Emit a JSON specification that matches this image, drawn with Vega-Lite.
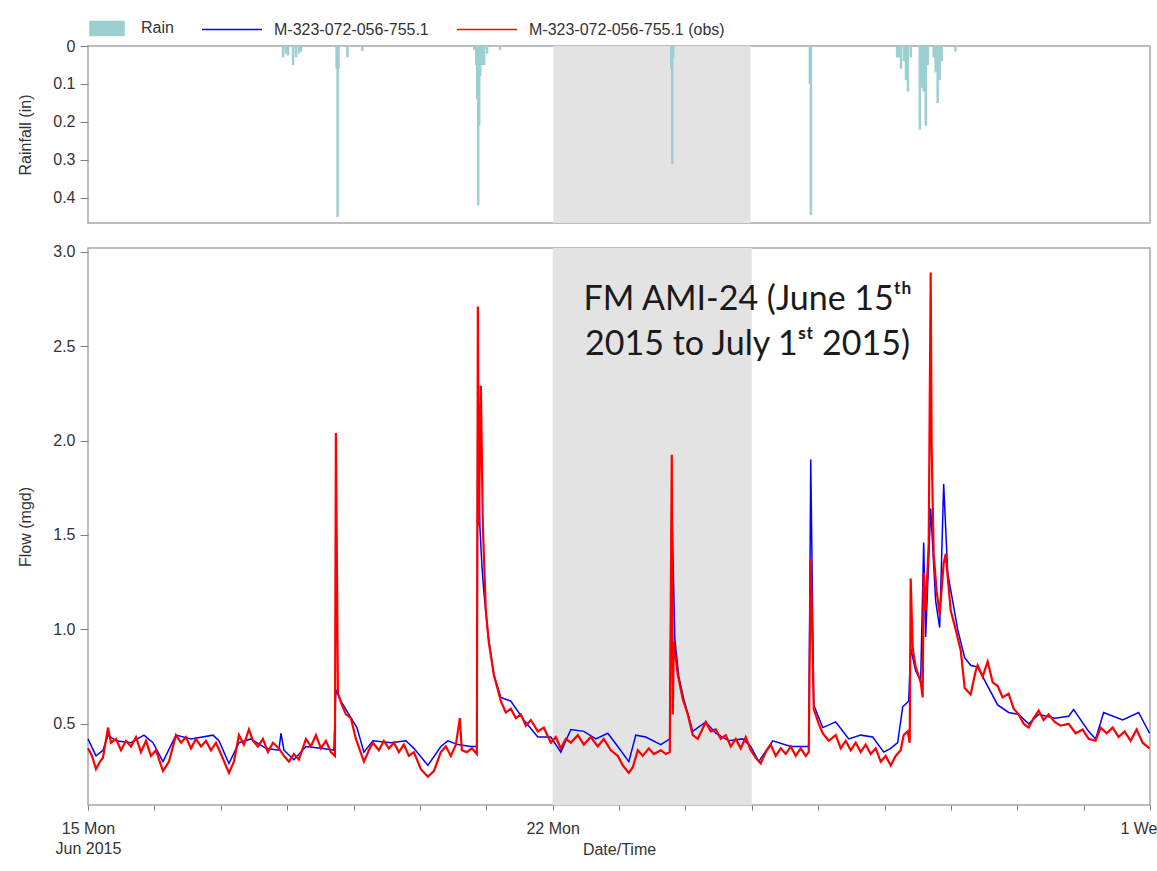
{
  "$schema": "https://vega.github.io/schema/vega-lite/v6.json",
  "padding": {"left": 16, "top": 20, "right": 0, "bottom": 5},
  "background": "white",
  "spacing": 19,
  "datasets": {
    "band": [{"start": "2015-06-22T00:00", "end": "2015-06-25T00:00"}],
    "rain": [
      {"t": "2015-06-17T21:24", "rain": 0.03}, {"t": "2015-06-17T22:29", "rain": 0.02}, {"t": "2015-06-17T23:12", "rain": 0.025},
      {"t": "2015-06-18T01:01", "rain": 0.05}, {"t": "2015-06-18T02:06", "rain": 0.03}, {"t": "2015-06-18T03:11", "rain": 0.02},
      {"t": "2015-06-18T03:54", "rain": 0.015}, {"t": "2015-06-18T16:55", "rain": 0.06}, {"t": "2015-06-18T17:17", "rain": 0.45},
      {"t": "2015-06-18T17:38", "rain": 0.06}, {"t": "2015-06-18T20:53", "rain": 0.03}, {"t": "2015-06-19T02:19", "rain": 0.013},
      {"t": "2015-06-20T19:09", "rain": 0.01}, {"t": "2015-06-20T19:53", "rain": 0.05}, {"t": "2015-06-20T20:14", "rain": 0.14},
      {"t": "2015-06-20T20:36", "rain": 0.42}, {"t": "2015-06-20T20:58", "rain": 0.21}, {"t": "2015-06-20T21:20", "rain": 0.08},
      {"t": "2015-06-20T22:03", "rain": 0.05}, {"t": "2015-06-20T22:46", "rain": 0.05}, {"t": "2015-06-20T23:51", "rain": 0.02},
      {"t": "2015-06-21T04:33", "rain": 0.01}, {"t": "2015-06-23T19:05", "rain": 0.06}, {"t": "2015-06-23T19:27", "rain": 0.31},
      {"t": "2015-06-23T19:48", "rain": 0.03}, {"t": "2015-06-25T21:41", "rain": 0.1}, {"t": "2015-06-25T22:03", "rain": 0.445},
      {"t": "2015-06-27T05:30", "rain": 0.03}, {"t": "2015-06-27T06:13", "rain": 0.03}, {"t": "2015-06-27T06:56", "rain": 0.06},
      {"t": "2015-06-27T08:01", "rain": 0.04}, {"t": "2015-06-27T08:45", "rain": 0.09}, {"t": "2015-06-27T09:28", "rain": 0.12},
      {"t": "2015-06-27T10:33", "rain": 0.03}, {"t": "2015-06-27T13:48", "rain": 0.22}, {"t": "2015-06-27T14:32", "rain": 0.11},
      {"t": "2015-06-27T15:15", "rain": 0.12}, {"t": "2015-06-27T15:59", "rain": 0.21}, {"t": "2015-06-27T16:42", "rain": 0.05},
      {"t": "2015-06-27T18:52", "rain": 0.03}, {"t": "2015-06-27T19:35", "rain": 0.07}, {"t": "2015-06-27T20:19", "rain": 0.15},
      {"t": "2015-06-27T21:02", "rain": 0.09}, {"t": "2015-06-27T21:46", "rain": 0.04}, {"t": "2015-06-28T02:49", "rain": 0.015}
    ],
    "model": [
      {"t": "2015-06-15T00:00", "flow": 0.42}, {"t": "2015-06-15T02:53", "flow": 0.33}, {"t": "2015-06-15T05:25", "flow": 0.36},
      {"t": "2015-06-15T07:14", "flow": 0.44}, {"t": "2015-06-15T10:07", "flow": 0.41}, {"t": "2015-06-15T15:33", "flow": 0.40},
      {"t": "2015-06-15T20:14", "flow": 0.44}, {"t": "2015-06-15T23:30", "flow": 0.40}, {"t": "2015-06-16T03:07", "flow": 0.30},
      {"t": "2015-06-16T07:48", "flow": 0.44}, {"t": "2015-06-16T13:14", "flow": 0.42}, {"t": "2015-06-16T21:11", "flow": 0.44},
      {"t": "2015-06-16T23:21", "flow": 0.41}, {"t": "2015-06-17T02:58", "flow": 0.29}, {"t": "2015-06-17T06:35", "flow": 0.40},
      {"t": "2015-06-17T10:55", "flow": 0.42}, {"t": "2015-06-17T16:20", "flow": 0.37}, {"t": "2015-06-17T21:02", "flow": 0.36},
      {"t": "2015-06-17T21:46", "flow": 0.45}, {"t": "2015-06-17T22:51", "flow": 0.36}, {"t": "2015-06-18T02:27", "flow": 0.31},
      {"t": "2015-06-18T06:48", "flow": 0.38}, {"t": "2015-06-18T12:13", "flow": 0.37}, {"t": "2015-06-18T16:55", "flow": 0.36},
      {"t": "2015-06-18T17:38", "flow": 0.68}, {"t": "2015-06-18T19:27", "flow": 0.62}, {"t": "2015-06-18T22:20", "flow": 0.55},
      {"t": "2015-06-19T01:14", "flow": 0.48}, {"t": "2015-06-19T03:46", "flow": 0.35}, {"t": "2015-06-19T07:01", "flow": 0.41},
      {"t": "2015-06-19T13:31", "flow": 0.40}, {"t": "2015-06-19T18:56", "flow": 0.41}, {"t": "2015-06-19T21:50", "flow": 0.37},
      {"t": "2015-06-20T02:53", "flow": 0.28}, {"t": "2015-06-20T07:35", "flow": 0.38}, {"t": "2015-06-20T10:07", "flow": 0.41},
      {"t": "2015-06-20T13:44", "flow": 0.39}, {"t": "2015-06-20T18:26", "flow": 0.38}, {"t": "2015-06-20T20:36", "flow": 0.38},
      {"t": "2015-06-20T20:58", "flow": 2.28}, {"t": "2015-06-20T21:41", "flow": 1.55}, {"t": "2015-06-20T22:25", "flow": 1.34},
      {"t": "2015-06-20T23:08", "flow": 1.20}, {"t": "2015-06-21T00:35", "flow": 0.98}, {"t": "2015-06-21T02:45", "flow": 0.76},
      {"t": "2015-06-21T05:17", "flow": 0.64}, {"t": "2015-06-21T08:53", "flow": 0.62}, {"t": "2015-06-21T13:35", "flow": 0.52},
      {"t": "2015-06-21T18:39", "flow": 0.43}, {"t": "2015-06-21T23:21", "flow": 0.43}, {"t": "2015-06-22T02:58", "flow": 0.35},
      {"t": "2015-06-22T06:35", "flow": 0.47}, {"t": "2015-06-22T11:17", "flow": 0.46}, {"t": "2015-06-22T15:37", "flow": 0.42},
      {"t": "2015-06-22T19:57", "flow": 0.45}, {"t": "2015-06-22T23:34", "flow": 0.38}, {"t": "2015-06-23T03:33", "flow": 0.30},
      {"t": "2015-06-23T06:04", "flow": 0.44}, {"t": "2015-06-23T09:41", "flow": 0.43}, {"t": "2015-06-23T15:07", "flow": 0.39},
      {"t": "2015-06-23T18:22", "flow": 0.42}, {"t": "2015-06-23T19:05", "flow": 1.69}, {"t": "2015-06-23T20:10", "flow": 0.95},
      {"t": "2015-06-23T21:37", "flow": 0.75}, {"t": "2015-06-23T23:25", "flow": 0.63}, {"t": "2015-06-24T02:40", "flow": 0.46},
      {"t": "2015-06-24T07:22", "flow": 0.51}, {"t": "2015-06-24T10:59", "flow": 0.45}, {"t": "2015-06-24T15:41", "flow": 0.41},
      {"t": "2015-06-24T20:45", "flow": 0.42}, {"t": "2015-06-24T23:38", "flow": 0.38}, {"t": "2015-06-25T02:32", "flow": 0.30},
      {"t": "2015-06-25T07:35", "flow": 0.41}, {"t": "2015-06-25T14:06", "flow": 0.38}, {"t": "2015-06-25T20:36", "flow": 0.38},
      {"t": "2015-06-25T21:20", "flow": 1.90}, {"t": "2015-06-25T22:25", "flow": 0.60}, {"t": "2015-06-26T01:40", "flow": 0.48},
      {"t": "2015-06-26T06:22", "flow": 0.51}, {"t": "2015-06-26T11:04", "flow": 0.42}, {"t": "2015-06-26T15:24", "flow": 0.44},
      {"t": "2015-06-26T19:44", "flow": 0.43}, {"t": "2015-06-26T23:43", "flow": 0.35}, {"t": "2015-06-27T02:14", "flow": 0.37},
      {"t": "2015-06-27T04:46", "flow": 0.40}, {"t": "2015-06-27T06:35", "flow": 0.59}, {"t": "2015-06-27T08:45", "flow": 0.62},
      {"t": "2015-06-27T09:28", "flow": 0.90}, {"t": "2015-06-27T11:17", "flow": 0.78}, {"t": "2015-06-27T13:05", "flow": 0.73},
      {"t": "2015-06-27T14:10", "flow": 1.46}, {"t": "2015-06-27T14:53", "flow": 0.96}, {"t": "2015-06-27T16:42", "flow": 1.64},
      {"t": "2015-06-27T18:30", "flow": 1.15}, {"t": "2015-06-27T19:57", "flow": 1.01}, {"t": "2015-06-27T21:24", "flow": 1.77},
      {"t": "2015-06-27T22:51", "flow": 1.30}, {"t": "2015-06-28T02:27", "flow": 1.00}, {"t": "2015-06-28T04:59", "flow": 0.85},
      {"t": "2015-06-28T07:09", "flow": 0.81}, {"t": "2015-06-28T09:41", "flow": 0.80}, {"t": "2015-06-28T13:18", "flow": 0.70},
      {"t": "2015-06-28T16:55", "flow": 0.60}, {"t": "2015-06-28T20:53", "flow": 0.56}, {"t": "2015-06-29T00:30", "flow": 0.55},
      {"t": "2015-06-29T04:07", "flow": 0.50}, {"t": "2015-06-29T07:44", "flow": 0.55}, {"t": "2015-06-29T13:31", "flow": 0.53},
      {"t": "2015-06-29T18:35", "flow": 0.54}, {"t": "2015-06-29T20:23", "flow": 0.575}, {"t": "2015-06-30T01:48", "flow": 0.46},
      {"t": "2015-06-30T04:20", "flow": 0.42}, {"t": "2015-06-30T07:14", "flow": 0.56}, {"t": "2015-06-30T14:06", "flow": 0.52},
      {"t": "2015-06-30T19:53", "flow": 0.56}, {"t": "2015-06-30T23:50", "flow": 0.45}
    ],
    "obs": [
      {"t": "2015-06-15T00:00", "flow": 0.37}, {"t": "2015-06-15T01:27", "flow": 0.33}, {"t": "2015-06-15T02:53", "flow": 0.26},
      {"t": "2015-06-15T04:20", "flow": 0.30}, {"t": "2015-06-15T05:25", "flow": 0.32}, {"t": "2015-06-15T07:14", "flow": 0.48},
      {"t": "2015-06-15T08:19", "flow": 0.40}, {"t": "2015-06-15T10:07", "flow": 0.42}, {"t": "2015-06-15T11:56", "flow": 0.36},
      {"t": "2015-06-15T13:44", "flow": 0.41}, {"t": "2015-06-15T15:33", "flow": 0.38}, {"t": "2015-06-15T17:21", "flow": 0.43},
      {"t": "2015-06-15T19:09", "flow": 0.35}, {"t": "2015-06-15T20:58", "flow": 0.41}, {"t": "2015-06-15T22:46", "flow": 0.33},
      {"t": "2015-06-16T00:35", "flow": 0.36}, {"t": "2015-06-16T03:07", "flow": 0.25}, {"t": "2015-06-16T05:17", "flow": 0.30},
      {"t": "2015-06-16T07:48", "flow": 0.44}, {"t": "2015-06-16T09:37", "flow": 0.40}, {"t": "2015-06-16T11:25", "flow": 0.43},
      {"t": "2015-06-16T13:14", "flow": 0.37}, {"t": "2015-06-16T15:02", "flow": 0.42}, {"t": "2015-06-16T16:51", "flow": 0.38},
      {"t": "2015-06-16T18:39", "flow": 0.41}, {"t": "2015-06-16T20:27", "flow": 0.36}, {"t": "2015-06-16T22:16", "flow": 0.40},
      {"t": "2015-06-17T00:04", "flow": 0.34}, {"t": "2015-06-17T02:58", "flow": 0.24}, {"t": "2015-06-17T04:46", "flow": 0.30},
      {"t": "2015-06-17T06:35", "flow": 0.44}, {"t": "2015-06-17T08:23", "flow": 0.39}, {"t": "2015-06-17T10:11", "flow": 0.47},
      {"t": "2015-06-17T11:38", "flow": 0.41}, {"t": "2015-06-17T13:27", "flow": 0.38}, {"t": "2015-06-17T15:15", "flow": 0.42},
      {"t": "2015-06-17T17:04", "flow": 0.35}, {"t": "2015-06-17T18:52", "flow": 0.40}, {"t": "2015-06-17T21:02", "flow": 0.37},
      {"t": "2015-06-17T22:51", "flow": 0.33}, {"t": "2015-06-18T00:39", "flow": 0.30}, {"t": "2015-06-18T02:27", "flow": 0.34},
      {"t": "2015-06-18T04:16", "flow": 0.31}, {"t": "2015-06-18T06:48", "flow": 0.42}, {"t": "2015-06-18T08:36", "flow": 0.38},
      {"t": "2015-06-18T10:25", "flow": 0.44}, {"t": "2015-06-18T12:13", "flow": 0.37}, {"t": "2015-06-18T14:01", "flow": 0.41},
      {"t": "2015-06-18T15:50", "flow": 0.35}, {"t": "2015-06-18T17:17", "flow": 0.33}, {"t": "2015-06-18T17:38", "flow": 2.04},
      {"t": "2015-06-18T18:22", "flow": 0.66}, {"t": "2015-06-18T19:48", "flow": 0.60}, {"t": "2015-06-18T21:15", "flow": 0.55},
      {"t": "2015-06-18T23:04", "flow": 0.53}, {"t": "2015-06-19T00:52", "flow": 0.42}, {"t": "2015-06-19T03:46", "flow": 0.30},
      {"t": "2015-06-19T05:34", "flow": 0.36}, {"t": "2015-06-19T07:01", "flow": 0.40}, {"t": "2015-06-19T09:11", "flow": 0.36},
      {"t": "2015-06-19T10:59", "flow": 0.41}, {"t": "2015-06-19T12:48", "flow": 0.37}, {"t": "2015-06-19T14:36", "flow": 0.40},
      {"t": "2015-06-19T16:25", "flow": 0.35}, {"t": "2015-06-19T18:13", "flow": 0.39}, {"t": "2015-06-19T20:01", "flow": 0.33},
      {"t": "2015-06-19T21:50", "flow": 0.35}, {"t": "2015-06-20T00:22", "flow": 0.26}, {"t": "2015-06-20T02:53", "flow": 0.22},
      {"t": "2015-06-20T05:04", "flow": 0.25}, {"t": "2015-06-20T07:35", "flow": 0.35}, {"t": "2015-06-20T09:24", "flow": 0.38},
      {"t": "2015-06-20T11:12", "flow": 0.33}, {"t": "2015-06-20T13:01", "flow": 0.39}, {"t": "2015-06-20T14:27", "flow": 0.53},
      {"t": "2015-06-20T15:11", "flow": 0.36}, {"t": "2015-06-20T16:59", "flow": 0.35}, {"t": "2015-06-20T18:48", "flow": 0.37},
      {"t": "2015-06-20T20:36", "flow": 0.34}, {"t": "2015-06-20T20:58", "flow": 2.71}, {"t": "2015-06-20T21:20", "flow": 1.55},
      {"t": "2015-06-20T22:03", "flow": 2.29}, {"t": "2015-06-20T22:46", "flow": 1.55}, {"t": "2015-06-20T23:51", "flow": 1.10},
      {"t": "2015-06-21T00:56", "flow": 0.93}, {"t": "2015-06-21T02:45", "flow": 0.76}, {"t": "2015-06-21T05:17", "flow": 0.62},
      {"t": "2015-06-21T07:05", "flow": 0.56}, {"t": "2015-06-21T08:53", "flow": 0.58}, {"t": "2015-06-21T10:42", "flow": 0.53},
      {"t": "2015-06-21T12:30", "flow": 0.55}, {"t": "2015-06-21T14:19", "flow": 0.49}, {"t": "2015-06-21T16:07", "flow": 0.52},
      {"t": "2015-06-21T18:39", "flow": 0.46}, {"t": "2015-06-21T20:49", "flow": 0.48}, {"t": "2015-06-21T23:21", "flow": 0.40},
      {"t": "2015-06-22T01:09", "flow": 0.43}, {"t": "2015-06-22T02:58", "flow": 0.37}, {"t": "2015-06-22T04:46", "flow": 0.42},
      {"t": "2015-06-22T06:35", "flow": 0.40}, {"t": "2015-06-22T09:07", "flow": 0.44}, {"t": "2015-06-22T11:17", "flow": 0.39},
      {"t": "2015-06-22T13:48", "flow": 0.43}, {"t": "2015-06-22T16:20", "flow": 0.38}, {"t": "2015-06-22T18:30", "flow": 0.42},
      {"t": "2015-06-22T21:02", "flow": 0.36}, {"t": "2015-06-22T23:34", "flow": 0.33}, {"t": "2015-06-23T01:22", "flow": 0.28},
      {"t": "2015-06-23T03:33", "flow": 0.24}, {"t": "2015-06-23T04:59", "flow": 0.27}, {"t": "2015-06-23T06:48", "flow": 0.36},
      {"t": "2015-06-23T08:36", "flow": 0.33}, {"t": "2015-06-23T10:46", "flow": 0.37}, {"t": "2015-06-23T12:35", "flow": 0.34},
      {"t": "2015-06-23T15:07", "flow": 0.36}, {"t": "2015-06-23T16:55", "flow": 0.34}, {"t": "2015-06-23T18:22", "flow": 0.35},
      {"t": "2015-06-23T19:05", "flow": 1.925}, {"t": "2015-06-23T19:27", "flow": 0.55}, {"t": "2015-06-23T19:48", "flow": 0.935},
      {"t": "2015-06-23T21:15", "flow": 0.76}, {"t": "2015-06-23T23:04", "flow": 0.63}, {"t": "2015-06-24T00:52", "flow": 0.55},
      {"t": "2015-06-24T02:40", "flow": 0.44}, {"t": "2015-06-24T04:29", "flow": 0.42}, {"t": "2015-06-24T07:22", "flow": 0.51},
      {"t": "2015-06-24T09:11", "flow": 0.46}, {"t": "2015-06-24T10:59", "flow": 0.47}, {"t": "2015-06-24T12:48", "flow": 0.42},
      {"t": "2015-06-24T14:36", "flow": 0.44}, {"t": "2015-06-24T16:25", "flow": 0.38}, {"t": "2015-06-24T18:13", "flow": 0.42},
      {"t": "2015-06-24T20:01", "flow": 0.37}, {"t": "2015-06-24T21:50", "flow": 0.43}, {"t": "2015-06-24T23:38", "flow": 0.36},
      {"t": "2015-06-25T01:27", "flow": 0.32}, {"t": "2015-06-25T03:15", "flow": 0.29}, {"t": "2015-06-25T05:04", "flow": 0.35},
      {"t": "2015-06-25T06:52", "flow": 0.39}, {"t": "2015-06-25T08:40", "flow": 0.33}, {"t": "2015-06-25T10:29", "flow": 0.37},
      {"t": "2015-06-25T12:17", "flow": 0.34}, {"t": "2015-06-25T14:06", "flow": 0.38}, {"t": "2015-06-25T15:54", "flow": 0.33},
      {"t": "2015-06-25T17:43", "flow": 0.37}, {"t": "2015-06-25T19:31", "flow": 0.33}, {"t": "2015-06-25T20:36", "flow": 0.35},
      {"t": "2015-06-25T21:20", "flow": 1.375}, {"t": "2015-06-25T22:25", "flow": 0.58}, {"t": "2015-06-26T00:13", "flow": 0.50},
      {"t": "2015-06-26T01:40", "flow": 0.45}, {"t": "2015-06-26T03:50", "flow": 0.41}, {"t": "2015-06-26T06:22", "flow": 0.44},
      {"t": "2015-06-26T08:10", "flow": 0.37}, {"t": "2015-06-26T09:59", "flow": 0.41}, {"t": "2015-06-26T11:47", "flow": 0.36},
      {"t": "2015-06-26T13:35", "flow": 0.40}, {"t": "2015-06-26T15:24", "flow": 0.35}, {"t": "2015-06-26T17:12", "flow": 0.39},
      {"t": "2015-06-26T19:01", "flow": 0.34}, {"t": "2015-06-26T20:49", "flow": 0.37}, {"t": "2015-06-26T22:38", "flow": 0.30},
      {"t": "2015-06-27T00:26", "flow": 0.33}, {"t": "2015-06-27T02:14", "flow": 0.28}, {"t": "2015-06-27T04:03", "flow": 0.33},
      {"t": "2015-06-27T05:51", "flow": 0.36}, {"t": "2015-06-27T06:56", "flow": 0.44}, {"t": "2015-06-27T08:23", "flow": 0.46},
      {"t": "2015-06-27T09:07", "flow": 0.40}, {"t": "2015-06-27T09:28", "flow": 1.27}, {"t": "2015-06-27T10:12", "flow": 0.90},
      {"t": "2015-06-27T11:17", "flow": 0.80}, {"t": "2015-06-27T13:05", "flow": 0.72}, {"t": "2015-06-27T13:48", "flow": 0.64},
      {"t": "2015-06-27T14:10", "flow": 1.30}, {"t": "2015-06-27T14:53", "flow": 1.10}, {"t": "2015-06-27T15:59", "flow": 1.45},
      {"t": "2015-06-27T16:42", "flow": 2.89}, {"t": "2015-06-27T17:04", "flow": 1.95}, {"t": "2015-06-27T17:47", "flow": 1.40},
      {"t": "2015-06-27T18:52", "flow": 1.20}, {"t": "2015-06-27T19:57", "flow": 1.08}, {"t": "2015-06-27T21:24", "flow": 1.35},
      {"t": "2015-06-27T22:07", "flow": 1.40}, {"t": "2015-06-27T23:56", "flow": 1.10}, {"t": "2015-06-28T01:44", "flow": 1.00},
      {"t": "2015-06-28T03:33", "flow": 0.89}, {"t": "2015-06-28T04:59", "flow": 0.69}, {"t": "2015-06-28T07:09", "flow": 0.655},
      {"t": "2015-06-28T08:58", "flow": 0.78}, {"t": "2015-06-28T09:41", "flow": 0.81}, {"t": "2015-06-28T11:30", "flow": 0.75},
      {"t": "2015-06-28T13:18", "flow": 0.83}, {"t": "2015-06-28T15:07", "flow": 0.72}, {"t": "2015-06-28T16:55", "flow": 0.70},
      {"t": "2015-06-28T18:43", "flow": 0.64}, {"t": "2015-06-28T20:53", "flow": 0.66}, {"t": "2015-06-28T22:42", "flow": 0.58},
      {"t": "2015-06-29T00:30", "flow": 0.55}, {"t": "2015-06-29T02:19", "flow": 0.50}, {"t": "2015-06-29T04:07", "flow": 0.48},
      {"t": "2015-06-29T05:56", "flow": 0.53}, {"t": "2015-06-29T07:44", "flow": 0.57}, {"t": "2015-06-29T09:32", "flow": 0.52},
      {"t": "2015-06-29T11:21", "flow": 0.55}, {"t": "2015-06-29T13:31", "flow": 0.51}, {"t": "2015-06-29T15:41", "flow": 0.49},
      {"t": "2015-06-29T18:35", "flow": 0.50}, {"t": "2015-06-29T21:06", "flow": 0.45}, {"t": "2015-06-29T23:38", "flow": 0.47},
      {"t": "2015-06-30T01:48", "flow": 0.42}, {"t": "2015-06-30T04:20", "flow": 0.41}, {"t": "2015-06-30T06:09", "flow": 0.48},
      {"t": "2015-06-30T08:19", "flow": 0.45}, {"t": "2015-06-30T10:29", "flow": 0.48}, {"t": "2015-06-30T12:39", "flow": 0.43},
      {"t": "2015-06-30T14:49", "flow": 0.46}, {"t": "2015-06-30T16:59", "flow": 0.41}, {"t": "2015-06-30T19:09", "flow": 0.47},
      {"t": "2015-06-30T21:20", "flow": 0.40}, {"t": "2015-06-30T23:50", "flow": 0.37}
    ],
    "note": [{"t": "2015-06-24T22:30", "flow": 2.745, "label": "FM AMI-24 (June 15ᵗʰ\n2015 to July 1ˢᵗ 2015)"}]
  },
  "config": {
    "font": "Liberation Sans",
    "view": {"stroke": "#a8a8a8", "strokeWidth": 1.5},
    "axis": {
      "labelFont": "Liberation Sans", "labelFontSize": 16, "labelColor": "#333",
      "titleFont": "Liberation Sans", "titleFontSize": 16, "titleFontWeight": "normal", "titleColor": "#333",
      "domain": false, "grid": false, "tickColor": "#808080"
    }
  },
  "vconcat": [
    {
      "width": 1062,
      "height": 177,
      "layer": [
        {
          "data": {"name": "band"},
          "mark": {"type": "rect", "color": "#e3e3e3"},
          "encoding": {
            "x": {"field": "start", "type": "temporal", "axis": null},
            "x2": {"field": "end"}
          }
        },
        {
          "data": {"name": "rain"},
          "mark": {"type": "bar", "size": 2.5},
          "encoding": {
            "x": {
              "field": "t", "type": "temporal",
              "scale": {"domain": [{"year": 2015, "month": 6, "date": 15}, {"year": 2015, "month": 7, "date": 1}]},
              "axis": null
            },
            "y": {
              "field": "rain", "type": "quantitative",
              "scale": {"domain": [0, 0.466], "reverse": true, "nice": false},
              "axis": {"title": "Rainfall (in)", "values": [0, 0.1, 0.2, 0.3, 0.4], "format": ".1~f", "tickSize": 8, "labelPadding": 5, "minExtent": 46, "maxExtent": 46, "titlePadding": 9}
            },
            "color": {
              "datum": "Rain",
              "scale": {"domain": ["Rain", "M-323-072-056-755.1", "M-323-072-056-755.1 (obs)"], "range": ["#9ccfcf", "#0000ff", "#ff0000"]},
              "legend": {
                "orient": "top", "direction": "horizontal", "title": null,
                "labelFont": "Liberation Sans", "labelFontSize": 16, "labelColor": "#333", "labelLimit": 400,
                "symbolSize": 144, "symbolStrokeWidth": 1.5,
                "columnPadding": 25, "labelOffset": 58, "offset": -2,
                "encode": {
                  "symbols": {
                    "update": {
                      "shape": {"signal": "datum.value === 'Rain' ? 'M-1,-1.17H4.67V1.17H-1Z' : 'M-1,0H9'"},
                      "fill": {"signal": "datum.value === 'Rain' ? '#9ccfcf' : 'transparent'"},
                      "stroke": {"signal": "datum.value === 'Rain' ? '#7fb5b5' : datum.value === 'M-323-072-056-755.1' ? '#0000ff' : '#ff0000'"},
                      "strokeWidth": {"value": 1.5},
                      "opacity": {"value": 1}
                    }
                  },
                  "labels": {
                    "update": {
                      "dx": {"signal": "datum.value === 'Rain' ? -21 : 0"}
                    }
                  }
                }
              }
            }
          }
        }
      ]
    },
    {
      "width": 1062,
      "height": 557,
      "layer": [
        {
          "data": {"name": "band"},
          "mark": {"type": "rect", "color": "#e3e3e3"},
          "encoding": {
            "x": {"field": "start", "type": "temporal"},
            "x2": {"field": "end"}
          }
        },
        {
          "data": {"name": "model"},
          "mark": {"type": "line", "strokeWidth": 1.5},
          "encoding": {
            "x": {
              "field": "t", "type": "temporal",
              "scale": {"domain": [{"year": 2015, "month": 6, "date": 15}, {"year": 2015, "month": 7, "date": 1}]},
              "axis": {
                "title": "Date/Time",
                "tickCount": {"interval": "day", "step": 1},
                "tickSize": 5, "labelPadding": 10,
                "labelAlign": {"condition": {"test": "month(datum.value) === 6", "value": "right"}, "value": "center"},
                "labelOffset": {"condition": {"test": "month(datum.value) === 6", "value": 7}, "value": 0},
                "labelExpr": "date(datum.value) === 15 ? ['15 Mon', 'Jun 2015'] : date(datum.value) === 22 ? '22 Mon' : (month(datum.value) === 6 && date(datum.value) === 1) ? '1 We' : ''",
                "labelLineHeight": 20,
                "titleY": 36
              }
            },
            "y": {
              "field": "flow", "type": "quantitative",
              "scale": {"domain": [0.07, 3.02], "nice": false, "zero": false},
              "axis": {"title": "Flow (mgd)", "values": [0.5, 1, 1.5, 2, 2.5, 3], "format": ".1f", "tickSize": 8, "labelPadding": 5, "minExtent": 46, "maxExtent": 46, "titlePadding": 9}
            },
            "color": {"datum": "M-323-072-056-755.1"}
          }
        },
        {
          "data": {"name": "obs"},
          "mark": {"type": "line", "strokeWidth": 2.2},
          "encoding": {
            "x": {"field": "t", "type": "temporal"},
            "y": {"field": "flow", "type": "quantitative"},
            "color": {"datum": "M-323-072-056-755.1 (obs)"}
          }
        },
        {
          "data": {"name": "note"},
          "mark": {"type": "text", "font": "Lato", "fontSize": 34, "lineHeight": 45, "lineBreak": "\n", "color": "#1a1a1a", "baseline": "middle", "align": "center"},
          "encoding": {
            "x": {"field": "t", "type": "temporal"},
            "y": {"field": "flow", "type": "quantitative"},
            "text": {"field": "label"}
          }
        }
      ]
    }
  ]
}
